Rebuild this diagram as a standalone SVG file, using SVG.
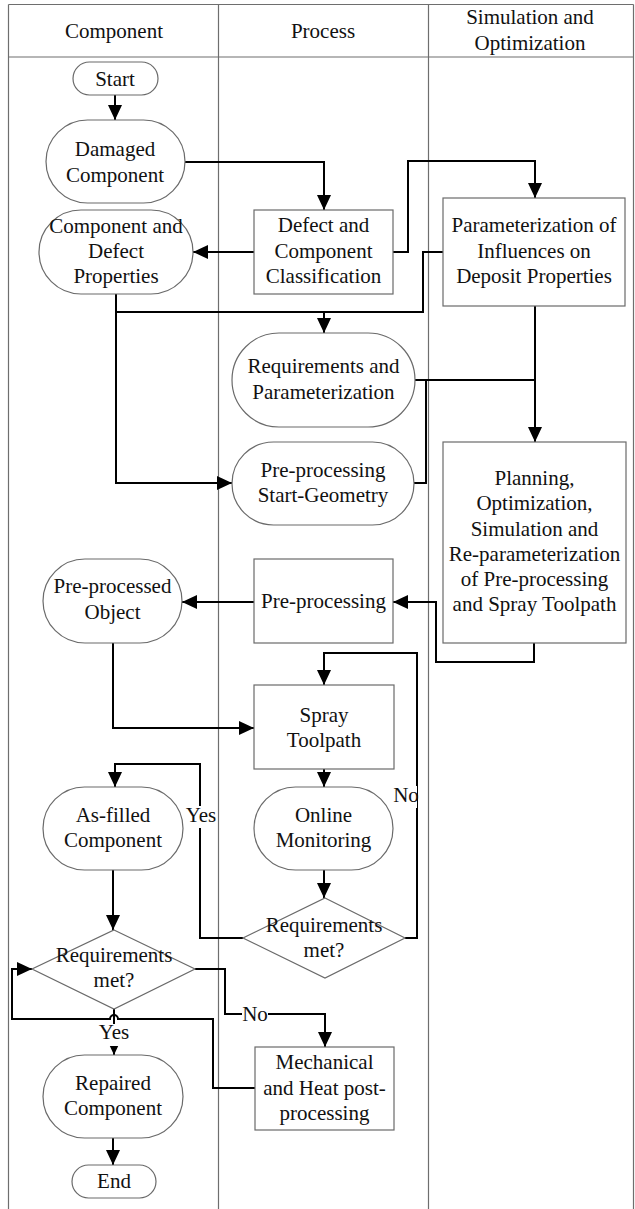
<svg xmlns="http://www.w3.org/2000/svg" width="635" height="1209" viewBox="0 0 635 1209">
<style>
.grid{stroke:#6e6e6e;stroke-width:1.2;fill:none}
.n{fill:#fff;stroke:#6a6a6a;stroke-width:1.2}
.t{font-family:"Liberation Serif","Times New Roman",serif;font-size:21px;fill:#111;text-anchor:middle}
.c{fill:none;stroke:#000;stroke-width:2}
.a{marker-end:url(#ah)}
.lb{fill:#fff;stroke:none}
</style>
<defs>
<marker id="ah" markerUnits="userSpaceOnUse" markerWidth="15" markerHeight="14" refX="15" refY="7" orient="auto">
<path d="M0,0 L15,7 L0,14 z" fill="#000"/>
</marker>
</defs>
<rect x="0" y="0" width="635" height="1209" fill="#fff"/>
<g id="lanes">
<path class="grid" d="M8.5,4.5 H633.5 M8.5,57 H633.5 M8.5,4.5 V1209 M218.5,4.5 V1209 M428.5,4.5 V1209 M633.5,4.5 V1209"/>
<text class="t" x="114" y="38">Component</text>
<text class="t" x="323" y="38">Process</text>
<text class="t" x="530" y="24">Simulation and</text>
<text class="t" x="530" y="50">Optimization</text>
</g>
<g id="connectors">
<path class="c a" d="M115,95 V120"/>
<path class="c a" d="M185,162 H324 V210"/>
<path class="c a" d="M254,252 H193"/>
<path class="c a" d="M393,252 H408 V161 H535 V198"/>
<path class="c" d="M443,252 H423 V312 H116"/>
<path class="c a" d="M116,294 V483 H232"/>
<path class="c a" d="M324,312 V333"/>
<path class="c a" d="M535,306 V442"/>
<path class="c" d="M415,380 H535"/>
<path class="c" d="M414,483 H426 V380"/>
<path class="c a" d="M534,643 V662 H436 V602 H393"/>
<path class="c a" d="M254,602 H182"/>
<path class="c a" d="M113,643 V728 H254"/>
<path class="c a" d="M324,769 V787"/>
<path class="c a" d="M324,870 V898"/>
<path class="c a" d="M405,938 H417 V653 H324 V685"/>
<path class="c a" d="M243,938 H200 V764 H115 V787"/>
<path class="c a" d="M113,870 V930"/>
<path class="c a" d="M195,969 H225 V1014 H325 V1047"/>
<path class="c a" d="M114,1009 V1055"/>
<path class="c a" d="M255,1088 H213 V1019 H118 A4,4 0 0 0 110,1019 H12 V969 H32"/>
<path class="c a" d="M113,1138 V1165"/>
<rect class="lb" x="393" y="786" width="24" height="22"/>
<text class="t" x="406" y="802">No</text>
<rect class="lb" x="186" y="806" width="31" height="22"/>
<text class="t" x="201" y="822">Yes</text>
<rect class="lb" x="242" y="1004" width="26" height="20"/>
<text class="t" x="255" y="1021">No</text>
<rect class="lb" x="98" y="1024" width="32" height="22"/>
<text class="t" x="114" y="1039">Yes</text>
</g>
<g id="start"><rect class="n" x="73" y="62" width="85" height="33" rx="16.5"/><text class="t" x="115" y="86">Start</text></g>
<g id="damaged"><rect class="n" x="46" y="120" width="139" height="83" rx="41.5"/><text class="t" x="115" y="156">Damaged</text><text class="t" x="115" y="182">Component</text></g>
<g id="props"><rect class="n" x="39" y="210" width="154" height="84" rx="42"/><text class="t" x="116" y="233">Component and</text><text class="t" x="116" y="258">Defect</text><text class="t" x="116" y="283">Properties</text></g>
<g id="classif"><rect class="n" x="254" y="210" width="139" height="84"/><text class="t" x="323.5" y="232">Defect and</text><text class="t" x="323.5" y="258">Component</text><text class="t" x="323.5" y="283">Classification</text></g>
<g id="param"><rect class="n" x="443" y="198" width="182" height="108"/><text class="t" x="534" y="232">Parameterization of</text><text class="t" x="534" y="258">Influences on</text><text class="t" x="534" y="283">Deposit Properties</text></g>
<g id="req"><rect class="n" x="232" y="333" width="183" height="94" rx="47"/><text class="t" x="323.5" y="373">Requirements and</text><text class="t" x="323.5" y="399">Parameterization</text></g>
<g id="prestart"><rect class="n" x="232" y="442" width="182" height="83" rx="41.5"/><text class="t" x="323" y="477">Pre-processing</text><text class="t" x="323" y="502">Start-Geometry</text></g>
<g id="planning"><rect class="n" x="443" y="442" width="183" height="201"/><text class="t" x="534.5" y="485">Planning,</text><text class="t" x="534.5" y="510">Optimization,</text><text class="t" x="534.5" y="535.5">Simulation and</text><text class="t" x="534.5" y="561">Re-parameterization</text><text class="t" x="534.5" y="586">of Pre-processing</text><text class="t" x="534.5" y="611">and Spray Toolpath</text></g>
<g id="preproc"><rect class="n" x="254" y="559" width="139" height="84"/><text class="t" x="323.5" y="608">Pre-processing</text></g>
<g id="object"><rect class="n" x="43" y="559" width="139" height="84" rx="42"/><text class="t" x="112.5" y="593">Pre-processed</text><text class="t" x="112.5" y="619">Object</text></g>
<g id="spray"><rect class="n" x="254" y="685" width="140" height="84"/><text class="t" x="324" y="722">Spray</text><text class="t" x="324" y="747">Toolpath</text></g>
<g id="asfilled"><rect class="n" x="43" y="787" width="140" height="83" rx="41.5"/><text class="t" x="113" y="822">As-filled</text><text class="t" x="113" y="847">Component</text></g>
<g id="monitor"><rect class="n" x="254" y="787" width="139" height="83" rx="41.5"/><text class="t" x="323.5" y="822">Online</text><text class="t" x="323.5" y="847">Monitoring</text></g>
<g id="decision2"><polygon class="n" points="325,898 405,938 325,978 243,938"/><text class="t" x="324" y="932">Requirements</text><text class="t" x="324" y="957">met?</text></g>
<g id="decision1"><polygon class="n" points="114,930 195,969 114,1009 32,969"/><text class="t" x="114" y="962">Requirements</text><text class="t" x="114" y="987">met?</text></g>
<g id="mech"><rect class="n" x="255" y="1047" width="139" height="83"/><text class="t" x="324.5" y="1069">Mechanical</text><text class="t" x="324.5" y="1095">and Heat post-</text><text class="t" x="324.5" y="1120">processing</text></g>
<g id="repaired"><rect class="n" x="43" y="1055" width="140" height="83" rx="41.5"/><text class="t" x="113" y="1090">Repaired</text><text class="t" x="113" y="1115">Component</text></g>
<g id="end"><rect class="n" x="72" y="1165" width="84" height="33" rx="16.5"/><text class="t" x="114" y="1188">End</text></g>
</svg>
